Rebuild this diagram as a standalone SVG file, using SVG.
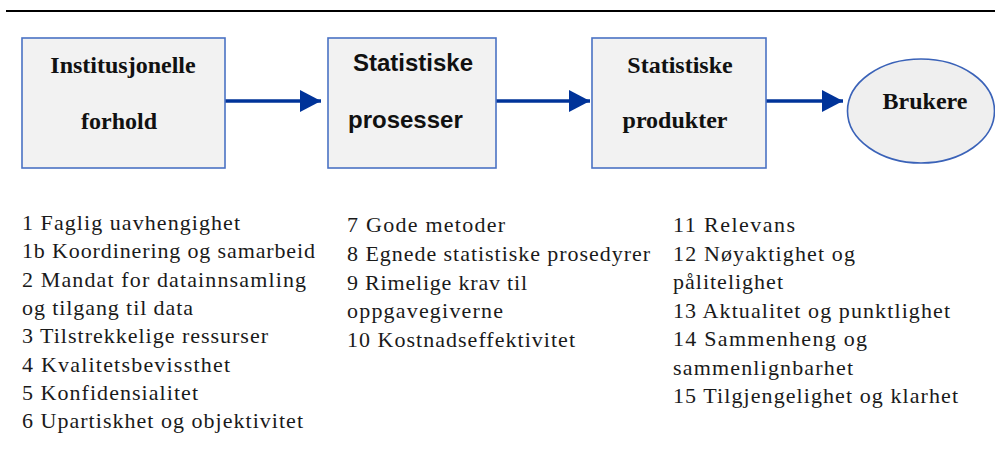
<svg xmlns="http://www.w3.org/2000/svg" width="995" height="468" viewBox="0 0 995 468">
<style>
.box{fill:#f2f2f2;stroke:#4a72c4;stroke-width:1.6}
.ell{fill:#efefef;stroke:#3a62b8;stroke-width:1.6}
.ts{font-family:'Liberation Serif','Times New Roman',serif;font-weight:bold;font-size:24px;fill:#111}
.tb{font-family:'Liberation Sans',Arial,sans-serif;font-weight:bold;font-size:24px;fill:#111}
.li{font-family:'Liberation Serif','Times New Roman',serif;font-size:22px;fill:#1a1a1a}
.con{stroke:#003399;stroke-width:3.5;fill:none}
</style>
<defs>
<marker id="ah" markerUnits="userSpaceOnUse" markerWidth="22" markerHeight="24" refX="21" refY="11" orient="auto">
<path d="M0,0 L21,11 L0,22 z" fill="#003399"/>
</marker>
</defs>
<line x1="6" y1="11" x2="995" y2="11" stroke="#000" stroke-width="2.2"/>
<g id="connectors">
<line class="con" x1="225" y1="101" x2="321" y2="101" marker-end="url(#ah)"/>
<line class="con" x1="496" y1="101" x2="590" y2="101" marker-end="url(#ah)"/>
<line class="con" x1="766" y1="101" x2="843" y2="101" marker-end="url(#ah)"/>
</g>
<g id="institusjonelle">
<rect class="box" x="22" y="38" width="203" height="130"/>
<text class="ts" x="123" y="72.5" text-anchor="middle">Institusjonelle</text>
<text class="ts" x="119" y="129" text-anchor="middle">forhold</text>
</g>
<g id="prosesser">
<rect class="box" x="328" y="38" width="168" height="130"/>
<text class="tb" x="353" y="70.5">Statistiske</text>
<text class="tb" x="348" y="128">prosesser</text>
</g>
<g id="produkter">
<rect class="box" x="592" y="38" width="174" height="130"/>
<text class="ts" x="680" y="72.5" text-anchor="middle">Statistiske</text>
<text class="ts" x="675" y="128" text-anchor="middle">produkter</text>
</g>
<g id="brukere">
<ellipse class="ell" cx="921" cy="111" rx="73.5" ry="52"/>
<text class="ts" x="925" y="109" text-anchor="middle">Brukere</text>
</g>
<g id="list1">
<text class="li" x="22" y="230" textLength="218" lengthAdjust="spacing">1 Faglig uavhengighet</text>
<text class="li" x="22" y="258.3" textLength="293" lengthAdjust="spacing">1b Koordinering og samarbeid</text>
<text class="li" x="22" y="286.6" textLength="284" lengthAdjust="spacing">2 Mandat for datainnsamling</text>
<text class="li" x="22" y="314.9" textLength="171" lengthAdjust="spacing">og tilgang til data</text>
<text class="li" x="22" y="343.2" textLength="246" lengthAdjust="spacing">3 Tilstrekkelige ressurser</text>
<text class="li" x="22" y="371.5" textLength="208" lengthAdjust="spacing">4 Kvalitetsbevissthet</text>
<text class="li" x="22" y="399.8" textLength="176" lengthAdjust="spacing">5 Konfidensialitet</text>
<text class="li" x="22" y="428.1" textLength="281" lengthAdjust="spacing">6 Upartiskhet og objektivitet</text>
</g>
<g id="list2">
<text class="li" x="347" y="232" textLength="158" lengthAdjust="spacing">7 Gode metoder</text>
<text class="li" x="347" y="260.75" textLength="303" lengthAdjust="spacing">8 Egnede statistiske prosedyrer</text>
<text class="li" x="347" y="289.5" textLength="180" lengthAdjust="spacing">9 Rimelige krav til</text>
<text class="li" x="347" y="318.25" textLength="156" lengthAdjust="spacing">oppgavegiverne</text>
<text class="li" x="347" y="347" textLength="228" lengthAdjust="spacing">10 Kostnadseffektivitet</text>
</g>
<g id="list3">
<text class="li" x="673" y="232" textLength="122" lengthAdjust="spacing">11 Relevans</text>
<text class="li" x="673" y="260.5" textLength="182" lengthAdjust="spacing">12 Nøyaktighet og</text>
<text class="li" x="673" y="289" textLength="110" lengthAdjust="spacing">pålitelighet</text>
<text class="li" x="673" y="317.5" textLength="277" lengthAdjust="spacing">13 Aktualitet og punktlighet</text>
<text class="li" x="673" y="346" textLength="194" lengthAdjust="spacing">14 Sammenheng og</text>
<text class="li" x="673" y="374.5" textLength="180" lengthAdjust="spacing">sammenlignbarhet</text>
<text class="li" x="673" y="403" textLength="285" lengthAdjust="spacing">15 Tilgjengelighet og klarhet</text>
</g>
</svg>
